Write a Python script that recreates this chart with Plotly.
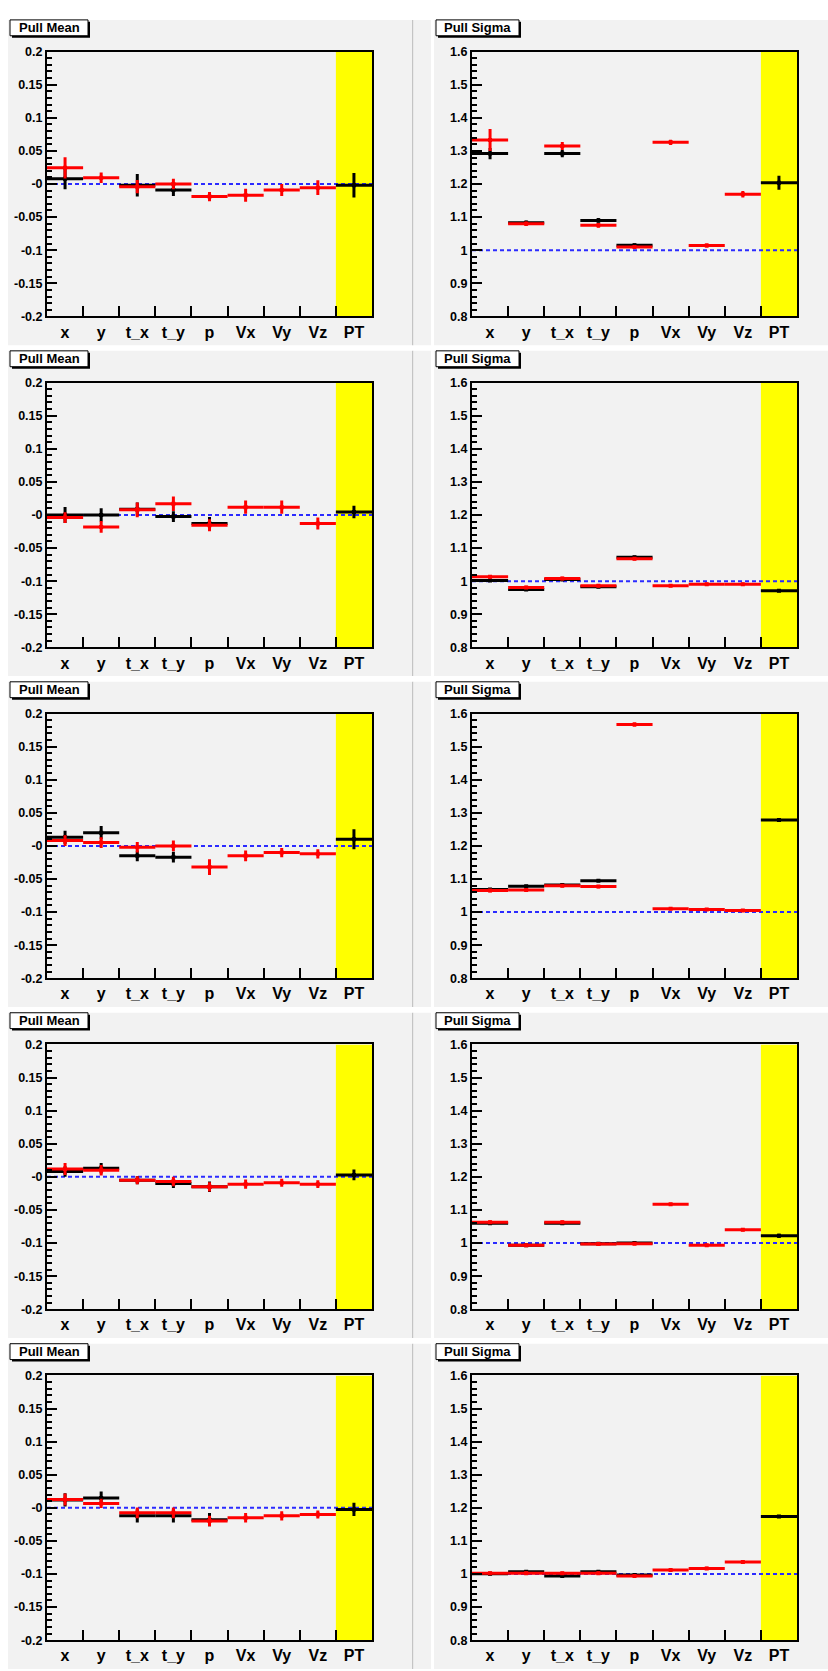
import plotly.graph_objects as go

W, H = 828, 1671

categories = ["x", "y", "t_x", "t_y", "p", "Vx", "Vy", "Vz", "PT"]

mean_ticks = [0.2, 0.15, 0.1, 0.05, 0.0, -0.05, -0.1, -0.15, -0.2]
mean_ticktext = ["0.2", "0.15", "0.1", "0.05", "-0", "-0.05", "-0.1", "-0.15", "-0.2"]
sigma_ticks = [1.6, 1.5, 1.4, 1.3, 1.2, 1.1, 1.0, 0.9, 0.8]
sigma_ticktext = ["1.6", "1.5", "1.4", "1.3", "1.2", "1.1", "1", "0.9", "0.8"]

mean_ref = 0.0
sigma_ref = 1.0

# ---- Pull Mean (one list per row) ----
mean_red = [
    [0.0245, 0.0095, -0.004, 0.0, -0.019, -0.017, -0.009, -0.0055, None],
    [-0.004, -0.018, 0.0077, 0.017, -0.0155, 0.0117, 0.0117, -0.0128, None],
    [0.008, 0.005, -0.002, 0.0, -0.032, -0.015, -0.01, -0.012, None],
    [0.012, 0.010, -0.005, -0.007, -0.015, -0.011, -0.009, -0.011, None],
    [0.0126, 0.0066, -0.0076, -0.0076, -0.020, -0.015, -0.012, -0.010, None],
]
mean_red_err = [
    [0.016, 0.008, 0.010, 0.008, 0.007, 0.010, 0.009, 0.011, None],
    [0.008, 0.009, 0.011, 0.011, 0.009, 0.010, 0.010, 0.009, None],
    [0.008, 0.008, 0.008, 0.008, 0.012, 0.008, 0.007, 0.007, None],
    [0.009, 0.008, 0.006, 0.007, 0.007, 0.007, 0.006, 0.006, None],
    [0.009, 0.007, 0.008, 0.008, 0.008, 0.007, 0.007, 0.006, None],
]
mean_black = [
    [0.008, None, -0.002, -0.009, None, None, None, None, -0.002],
    [0.0, 0.0, 0.0087, -0.0025, -0.013, None, None, None, 0.0046],
    [0.013, 0.020, -0.015, -0.017, None, None, None, None, 0.010],
    [0.008, 0.013, -0.005, -0.010, -0.015, None, None, None, 0.003],
    [0.012, 0.0147, -0.012, -0.012, -0.018, None, None, None, -0.0025],
]
mean_black_err = [
    [0.016, None, 0.017, 0.009, None, None, None, None, 0.0185],
    [0.012, 0.010, 0.010, 0.008, 0.010, None, None, None, 0.0095],
    [0.010, 0.010, 0.008, 0.008, None, None, None, None, 0.015],
    [0.008, 0.008, 0.006, 0.007, 0.008, None, None, None, 0.008],
    [0.010, 0.010, 0.010, 0.010, 0.010, None, None, None, 0.010],
]

# ---- Pull Sigma (one list per row) ----
sigma_red = [
    [1.333, 1.080, 1.315, 1.075, 1.010, 1.326, 1.014, 1.169, None],
    [1.013, 0.981, 1.008, 0.986, 1.068, 0.986, 0.991, 0.991, None],
    [1.065, 1.067, 1.080, 1.077, 1.567, 1.010, 1.008, 1.005, None],
    [1.063, 0.993, 1.063, 0.997, 0.998, 1.117, 0.993, 1.040, None],
    [1.002, 1.002, 1.002, 1.002, 0.994, 1.012, 1.017, 1.036, None],
]
sigma_red_err = [
    [0.033, 0.007, 0.012, 0.007, 0.006, 0.008, 0.006, 0.010, None],
    [0.005, 0.005, 0.005, 0.004, 0.005, 0.004, 0.004, 0.004, None],
    [0.005, 0.005, 0.005, 0.005, 0.006, 0.004, 0.004, 0.004, None],
    [0.005, 0.004, 0.005, 0.004, 0.004, 0.004, 0.004, 0.004, None],
    [0.005, 0.005, 0.005, 0.005, 0.005, 0.005, 0.005, 0.005, None],
]
sigma_black = [
    [1.292, 1.083, 1.292, 1.090, 1.015, None, None, None, 1.204],
    [1.002, 0.975, 1.005, 0.983, 1.072, None, None, None, 0.971],
    [1.068, 1.078, 1.082, 1.095, None, None, None, None, 1.278],
    [1.060, 0.993, 1.060, 0.998, 1.000, None, None, None, 1.022],
    [1.001, 1.007, 0.994, 1.007, 0.997, None, None, None, 1.174],
]
sigma_black_err = [
    [0.017, 0.007, 0.011, 0.007, 0.005, None, None, None, 0.021],
    [0.004, 0.005, 0.004, 0.004, 0.005, None, None, None, 0.004],
    [0.004, 0.004, 0.004, 0.004, None, None, None, None, 0.004],
    [0.004, 0.004, 0.004, 0.004, 0.004, None, None, None, 0.006],
    [0.005, 0.005, 0.005, 0.005, 0.005, None, None, None, 0.004],
]

# ---- layout geometry (pixels) ----
ROW_PITCH = 333.75
PLOT_TOP, PLOT_BOT = 45, 312
COLS = [(47, 372), (472, 797)]
PANEL_TOP, PANEL_H = 13, 328
FONT = "Liberation Sans, Arial, Helvetica, sans-serif"
PANEL_BG = "#f2f2f2"

def px(x):
    return x / W

def py(y):
    return 1 - y / H

fig = go.Figure()
layout = dict(
    width=W, height=H, margin=dict(l=0, r=0, t=0, b=0),
    paper_bgcolor="white", plot_bgcolor="rgba(0,0,0,0)",
    showlegend=False, shapes=[], annotations=[],
)

# panel backgrounds
for r in range(5):
    t = PANEL_TOP + r * ROW_PITCH
    b = t + PANEL_H
    for (x0, x1, col) in [(8, 412, PANEL_BG), (412, 413.5, "#c4c4c4"),
                          (413.5, 431, PANEL_BG), (434, 828, PANEL_BG)]:
        layout["shapes"].append(dict(
            type="rect", xref="paper", yref="paper", layer="below",
            x0=px(x0), x1=px(x1), y0=py(b), y1=py(t),
            fillcolor=col, line=dict(width=0)))

centers = [i + 0.5 for i in range(len(categories))]

def add_series(k, vals, errs, color):
    xs, ys, es = [], [], []
    for c, v, e in zip(centers, vals, errs):
        if v is None:
            continue
        xs.append(c); ys.append(v); es.append(e)
    fig.add_trace(go.Scatter(
        x=xs, y=ys, mode="markers", xaxis=f"x{k}", yaxis=f"y{k}",
        marker=dict(color=color, size=4, symbol="square"),
        error_x=dict(type="constant", value=0.5, color=color, thickness=3, width=0),
        error_y=dict(type="data", array=es, color=color, thickness=3, width=0),
        hoverinfo="skip"))

for r in range(5):
    top = PLOT_TOP + r * ROW_PITCH
    bot = PLOT_BOT + r * ROW_PITCH
    for c in range(2):
        k = 2 * r + c + 1
        sfx = "" if k == 1 else str(k)
        x0, x1 = COLS[c]
        if c == 0:
            rng = [-0.2, 0.2]; tv, tt = mean_ticks, mean_ticktext
            minor_dt = 0.01; ref = mean_ref
            red, rede = mean_red[r], mean_red_err[r]
            blk, blke = mean_black[r], mean_black_err[r]
            title = "Pull Mean"
        else:
            rng = [0.8, 1.6]; tv, tt = sigma_ticks, sigma_ticktext
            minor_dt = 0.02; ref = sigma_ref
            red, rede = sigma_red[r], sigma_red_err[r]
            blk, blke = sigma_black[r], sigma_black_err[r]
            title = "Pull Sigma"

        layout["xaxis" + sfx] = dict(
            domain=[px(x0), px(x1)], anchor=f"y{k}", range=[0, 9],
            tickmode="array", tickvals=centers, ticktext=categories,
            ticks="", showgrid=False, zeroline=False,
            showline=True, linecolor="black", linewidth=2, mirror=True,
            tickfont=dict(family=FONT, size=16, color="black", weight="bold"),
            minor=dict(tickmode="array", tickvals=[1, 2, 3, 4, 5, 6, 7, 8],
                       ticks="inside", ticklen=10, tickwidth=1.5,
                       tickcolor="black", showgrid=False),
            fixedrange=True)
        layout["yaxis" + sfx] = dict(
            domain=[py(bot), py(top)], anchor=f"x{k}", range=rng,
            tickmode="array", tickvals=tv, ticktext=tt,
            ticks="inside", ticklen=10, tickwidth=1.5, tickcolor="black",
            showgrid=False, zeroline=False,
            showline=True, linecolor="black", linewidth=2, mirror=True,
            tickfont=dict(family=FONT, size=12.5, color="black", weight="bold"),
            minor=dict(dtick=minor_dt, tick0=0, ticks="inside", ticklen=5,
                       tickwidth=1.5, tickcolor="black", showgrid=False),
            fixedrange=True)

        # yellow PT band
        layout["shapes"].append(dict(
            type="rect", xref=f"x{k}", yref=f"y{k}", layer="below",
            x0=8, x1=9, y0=rng[0], y1=rng[1],
            fillcolor="#ffff00", line=dict(width=0)))

        # reference dashed line
        fig.add_trace(go.Scatter(
            x=[0, 9], y=[ref, ref], mode="lines", xaxis=f"x{k}", yaxis=f"y{k}",
            line=dict(color="#2b2bff", width=2, dash="4px,3px"), hoverinfo="skip"))
        add_series(k, blk, blke, "black")
        add_series(k, red, rede, "#ff0000")

        # title box with shadow
        bx0 = 10 if c == 0 else 436
        bx1 = 88 if c == 0 else 519
        bt = 13 + r * ROW_PITCH
        bb = bt + 16
        layout["shapes"].append(dict(
            type="rect", xref="paper", yref="paper", layer="above",
            x0=px(bx0 + 2), x1=px(bx1 + 2), y0=py(bb + 2), y1=py(bt + 2),
            fillcolor="black", line=dict(width=0)))
        layout["shapes"].append(dict(
            type="rect", xref="paper", yref="paper", layer="above",
            x0=px(bx0), x1=px(bx1), y0=py(bb), y1=py(bt),
            fillcolor="white", line=dict(color="black", width=1)))
        layout["annotations"].append(dict(
            xref="paper", yref="paper", x=px((bx0 + bx1) / 2), y=py((bt + bb) / 2),
            text=f"<b>{title}</b>", showarrow=False, xanchor="center", yanchor="middle",
            font=dict(family=FONT, size=13, color="black")))

fig.update_layout(**layout)
fig.write_html("out.html")
